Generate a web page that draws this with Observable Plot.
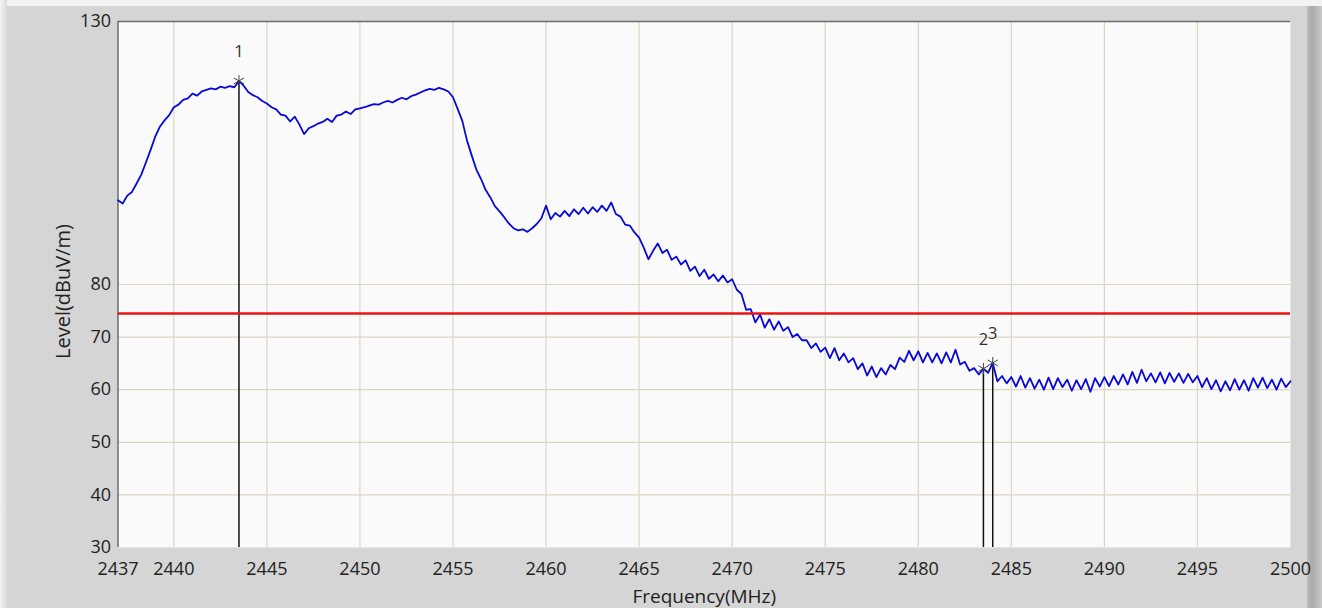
<!DOCTYPE html>
<html><head><meta charset="utf-8">
<script src="https://cdn.jsdelivr.net/npm/d3@7"></script>
<script src="https://cdn.jsdelivr.net/npm/@observablehq/plot@0.6"></script>
<style>
html,body{margin:0;padding:0;}
body{width:1322px;height:608px;overflow:hidden;background:#d5d5d5;position:relative;font-family:"Open Sans",sans-serif;}
#topband{position:absolute;left:0;top:0;width:1322px;height:6px;background:#f3f3f3;}
#leftband{position:absolute;left:0;top:0;width:7px;height:608px;background:linear-gradient(to right,#f3f3f3,#dadada);}
#rightband{position:absolute;right:0;top:6px;width:15px;height:602px;background:linear-gradient(to right,#bdbdbd,#a9a9a9 35%,#c9c9c9);}
#chart{position:absolute;left:0;top:0;}
</style>
</head><body>
<div id="topband"></div><div id="leftband"></div><div id="rightband"></div>
<div id="chart"></div>
<script>
// Spectrum sampled every 0.25 MHz from 2437 MHz
const freqStart = 2437;
const freqStep = 0.25;
const levels = [
  96.0, 95.4, 96.9, 97.6,
  99.2, 100.9, 103.2, 105.6,
  108.1, 110.0, 111.2, 112.2,
  113.7, 114.2, 115.1, 115.4,
  116.3, 115.9, 116.7, 117.0,
  117.3, 117.1, 117.6, 117.4,
  117.7, 117.5, 118.7, 117.8,
  116.6, 116.0, 115.6, 114.9,
  114.4, 113.7, 113.3, 112.3,
  112.1, 111.0, 111.9, 110.4,
  108.6, 109.7, 110.1, 110.6,
  110.9, 111.5, 110.9, 112.1,
  112.3, 112.9, 112.4, 113.3,
  113.5, 113.7, 114.0, 114.3,
  114.2, 114.6, 114.9, 114.6,
  115.1, 115.5, 115.2, 115.8,
  116.1, 116.5, 116.9, 117.2,
  117.0, 117.4, 117.1, 116.7,
  115.6, 113.4, 111.1, 107.4,
  104.6, 101.9, 100.1, 98.0,
  96.6, 94.9, 93.9, 92.8,
  91.6, 90.7, 90.3, 90.5,
  90.0, 90.7, 91.5, 92.6,
  95.0, 92.4, 93.6, 92.9,
  94.0, 93.0, 94.3, 93.4,
  94.6, 93.5, 94.7, 93.8,
  95.0, 94.0, 95.6, 93.4,
  92.9, 91.4, 91.2, 89.9,
  88.9, 87.0, 84.8, 86.4,
  87.8, 86.0, 86.6, 84.7,
  85.3, 83.8, 84.6, 82.6,
  83.4, 81.6, 82.8, 81.1,
  81.9, 80.6, 81.7, 80.4,
  81.0, 79.0, 78.2, 75.2,
  75.3, 72.8, 74.3, 71.8,
  73.4, 71.4, 73.0, 71.2,
  71.9, 70.0, 70.6, 69.4,
  69.4, 67.9, 68.8, 67.2,
  68.0, 66.0, 67.9, 65.6,
  66.9, 65.2, 66.0, 63.9,
  65.0, 62.7, 64.4, 62.4,
  64.1, 62.9, 64.7, 63.9,
  66.1, 65.3, 67.4, 65.6,
  67.3, 65.2, 67.0, 65.2,
  66.9, 65.0, 67.1, 65.2,
  67.6, 64.8, 65.3, 63.6,
  64.1, 62.9, 64.0, 63.2,
  65.1, 61.6, 62.6, 61.2,
  62.4, 60.6, 62.6, 60.4,
  62.2, 60.2, 61.9, 60.0,
  62.3, 60.1, 62.2, 60.5,
  61.9, 59.8, 61.8, 60.1,
  62.0, 59.6, 62.2, 60.6,
  62.4, 60.7, 62.6, 61.0,
  62.9, 61.0, 63.4, 61.3,
  63.8, 61.6, 63.1, 61.4,
  63.3, 61.2, 63.2, 61.5,
  63.1, 61.3, 63.0, 61.4,
  62.6, 60.5, 62.2, 60.1,
  61.8, 59.7, 61.6, 59.9,
  62.0, 60.0, 61.8, 59.8,
  62.2, 60.4, 62.3, 60.3,
  61.9, 60.0, 62.1, 60.5,
  61.6
];

const markerLabels = ["1", "2", "3"];
const markerFreqs = [2443.5, 2483.5, 2484.0];
const markerLevels = [118.7, 64.0, 65.1];

const limitLevel = 74.5;

const xTicks = [2437, 2440, 2445, 2450, 2455, 2460, 2465, 2470, 2475, 2480, 2485, 2490, 2495, 2500];
const yTicks = [30, 40, 50, 60, 70, 80, 130];
const xDomain = [2437, 2500];
const yDomain = [30, 130];
const xTitle = "Frequency(MHz)";
const yTitle = "Level(dBuV/m)";

const spectrum = levels.map((v, i) => ({f: freqStart + i * freqStep, v}));
const markers = markerLabels.map((t, i) => ({t, f: markerFreqs[i], v: markerLevels[i]}));
const gridX = xTicks.filter(d => d > xDomain[0] && d < xDomain[1]);
const gridY = yTicks.filter(d => d > yDomain[0] && d < yDomain[1]);

const gridColor = "#dcd6c3";
const fmt = d3.format("d");
const chart = Plot.plot({
  width: 1322,
  height: 608,
  marginLeft: 117.5,
  marginRight: 32,
  marginTop: 21,
  marginBottom: 61,
  style: {background: "transparent", fontFamily: "'Open Sans', sans-serif", overflow: "visible"},
  x: {domain: xDomain},
  y: {domain: yDomain},
  marks: [
    Plot.frame({fill: "#fafafa", stroke: null}),
    Plot.ruleX(gridX, {stroke: gridColor, strokeWidth: 1.2}),
    Plot.ruleY(gridY, {stroke: gridColor, strokeWidth: 1.2}),
    Plot.ruleY([yDomain[1]], {stroke: "#6d6d6d", strokeWidth: 1.5}),
    Plot.ruleX([xDomain[0]], {stroke: "#6d6d6d", strokeWidth: 1.5}),
    Plot.ruleX(markers, {x: "f", y1: yDomain[0], y2: "v", stroke: "#111", strokeWidth: 1.5}),
    Plot.line(spectrum, {x: "f", y: "v", stroke: "#0808d8", strokeWidth: 1.8}),
    Plot.ruleY([limitLevel], {stroke: "#e61414", strokeWidth: 2.5}),
    Plot.dot(markers, {x: "f", y: "v", symbol: "asterisk", r: 5.5, stroke: "#444", strokeWidth: 1}),
    Plot.text(markers, {x: "f", y: "v", text: "t", dy: -29, fontSize: 16.5, fill: "#333"}),
    Plot.axisY(yTicks, {tickSize: 0, tickPadding: 7, fontSize: 18, fill: "#222", label: null, tickFormat: fmt}),
    Plot.axisX(xTicks, {tickSize: 0, tickPadding: 15, fontSize: 18, fill: "#222", label: null, tickFormat: fmt}),
    Plot.text([xTitle], {frameAnchor: "bottom", dy: 55, fontSize: 19, fill: "#222"}),
    Plot.text([yTitle], {frameAnchor: "left", textAnchor: "middle", dx: -54, dy: 7, rotate: -90, fontSize: 20, fill: "#222"})
  ]
});
document.getElementById("chart").appendChild(chart);
</script>
</body></html>
